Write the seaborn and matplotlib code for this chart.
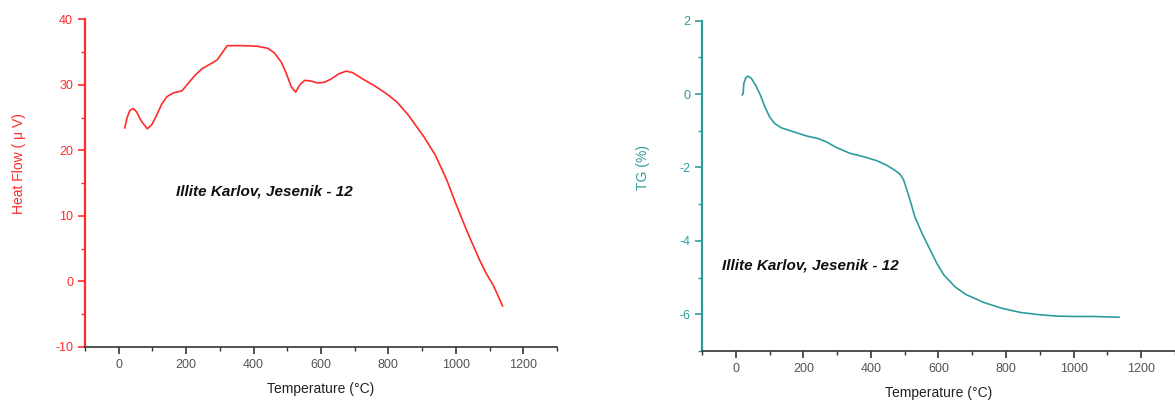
import matplotlib
matplotlib.use("Agg")
import matplotlib.pyplot as plt
import seaborn as sns
from matplotlib.ticker import MultipleLocator, FixedLocator

# ---- data ----
hf_temp = [18, 25, 33, 43, 53, 68, 85, 98, 113, 128, 143, 163, 188, 207, 227, 248, 272, 292,
           307, 322, 372, 412, 442, 462, 482, 497, 512, 525, 537, 552, 570, 590, 610, 630,
           653, 675, 693, 721, 761, 796, 825, 859, 905, 939, 973, 1002, 1036, 1071, 1090,
           1111, 1139]
hf_val = [23.4, 25.0, 26.1, 26.4, 25.9, 24.4, 23.3, 23.9, 25.4, 27.1, 28.2, 28.8, 29.1, 30.3,
          31.5, 32.5, 33.2, 33.8, 34.9, 36.0, 36.0, 35.9, 35.6, 34.9, 33.5, 31.8, 29.7, 28.9,
          30.0, 30.7, 30.6, 30.3, 30.4, 30.9, 31.7, 32.1, 31.9, 31.0, 29.8, 28.6, 27.4, 25.4,
          22.1, 19.3, 15.5, 11.6, 7.3, 3.2, 1.2, -0.6, -3.8]

tg_temp = [19, 22, 24, 30, 36, 46, 59, 73, 86, 100, 115, 135, 169, 209, 243, 268, 297, 337,
           376, 416, 445, 470, 486, 497, 513, 530, 551, 573, 595, 616, 649, 681, 735, 789,
           843, 897, 951, 1005, 1059, 1135]
tg_val = [-0.03, 0.02, 0.29, 0.45, 0.49, 0.43, 0.24, -0.03, -0.34, -0.62, -0.80, -0.92, -1.02,
          -1.14, -1.21, -1.30, -1.45, -1.61, -1.70, -1.81, -1.93, -2.07, -2.18, -2.34, -2.80,
          -3.34, -3.79, -4.20, -4.61, -4.93, -5.25, -5.46, -5.68, -5.84, -5.95, -6.01, -6.05,
          -6.06, -6.06, -6.08]

x_ticks = [0, 200, 400, 600, 800, 1000, 1200]
hf_ticks = [-10, 0, 10, 20, 30, 40]
tg_ticks = [-6, -4, -2, 0, 2]

sample_label = "Illite Karlov, Jesenik - 12"

RED = "#ff2b2b"
TEAL = "#2f9c9c"
AXGRAY = "#333333"
TICKGRAY = "#555555"

sns.set_theme(style="white")
plt.rcParams['font.family'] = ['Liberation Sans', 'DejaVu Sans']
plt.rcParams['axes.unicode_minus'] = False

fig = plt.figure(figsize=(11.75, 4.04), dpi=100)
ax1 = fig.add_axes([0.0723, 0.1418, 0.4017, 0.810])
ax2 = fig.add_axes([0.5974, 0.1312, 0.4026, 0.8176])


def style(ax, color, ylim, yticks, yminor, ylabel, label_coords):
    ax.set_xlim(-100, 1300)
    ax.set_ylim(*ylim)
    ax.xaxis.set_major_locator(FixedLocator(x_ticks))
    ax.xaxis.set_minor_locator(MultipleLocator(100))
    ax.yaxis.set_major_locator(FixedLocator(yticks))
    ax.yaxis.set_minor_locator(MultipleLocator(yminor))
    for s in ("top", "right"):
        ax.spines[s].set_visible(False)
    ax.spines["left"].set_color(color)
    ax.spines["left"].set_linewidth(1.6)
    ax.spines["bottom"].set_color(AXGRAY)
    ax.spines["bottom"].set_linewidth(1.2)
    ax.tick_params(axis="y", which="major", direction="out", length=5, width=1.2,
                   color=color, labelcolor=color, labelsize=9, left=True)
    ax.tick_params(axis="y", which="minor", direction="out", length=3, width=1.0,
                   color=color, left=True)
    ax.tick_params(axis="x", which="major", direction="out", length=5, width=1.2,
                   color=AXGRAY, labelcolor=TICKGRAY, labelsize=9, bottom=True)
    ax.tick_params(axis="x", which="minor", direction="out", length=3, width=1.0,
                   color=AXGRAY, bottom=True)
    ax.set_xlabel("Temperature (°C)", fontsize=10, color="#222222", labelpad=8)
    ax.set_ylabel(ylabel, fontsize=10, color=color)
    ax.yaxis.set_label_coords(*label_coords)
    ax.grid(False)


sns.lineplot(x=hf_temp, y=hf_val, ax=ax1, color=RED, linewidth=1.2, sort=False)
sns.lineplot(x=tg_temp, y=tg_val, ax=ax2, color=TEAL, linewidth=1.2, sort=False)

style(ax1, RED, (-10, 40), hf_ticks, 5, "Heat Flow ( \u03bc V)", (-0.125, 0.56))
style(ax2, TEAL, (-7, 2), tg_ticks, 1, "TG (%)", (-0.110, 0.557))

ax1.text(170, 13.7, sample_label, fontsize=11, fontweight="bold", fontstyle="italic",
         color="#111111", ha="left", va="center")
ax2.text(-42, -4.68, sample_label, fontsize=11, fontweight="bold", fontstyle="italic",
         color="#111111", ha="left", va="center")

fig.savefig("out.png", dpi=100)
